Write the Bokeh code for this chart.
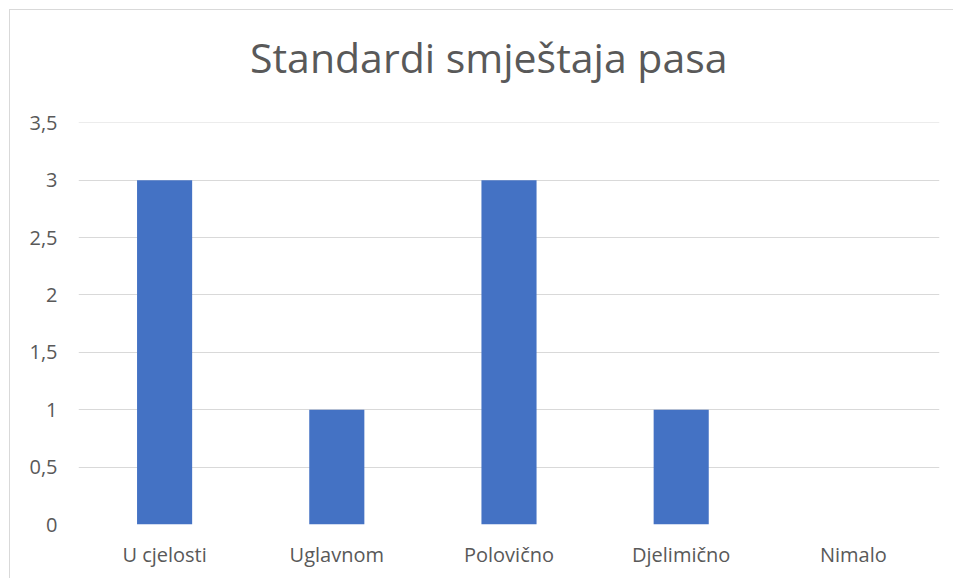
from bokeh.plotting import figure
from bokeh.models import ColumnDataSource, FactorRange, Range1d, FixedTicker, Div
from bokeh.layouts import column
from bokeh.embed import file_html
from bokeh.resources import INLINE

categories = ["U cjelosti", "Uglavnom", "Polovično", "Djelimično", "Nimalo"]
values = [3, 1, 3, 1, 0]
y_ticks = [0, 0.5, 1, 1.5, 2, 2.5, 3, 3.5]
y_tick_labels = ["0", "0,5", "1", "1,5", "2", "2,5", "3", "3,5"]
title_text = "Standardi smještaja pasa"

FONT = "Open Sans"
TXT = "#595959"

src = ColumnDataSource(dict(cat=categories, val=values))

title_div = Div(
    text=('<div style="margin:0; padding:0; padding-top:27px; padding-left:240px; '
          'line-height:1; white-space:nowrap; font-family:\'Open Sans\'; '
          'font-size:41px; color:%s;">%s</div>' % (TXT, title_text)),
    width=943, height=80,
    styles={"margin": "0", "padding": "0", "background-color": "white"},
)

p = figure(
    x_range=FactorRange(*categories, range_padding=0),
    y_range=Range1d(0, 3.503),
    width=943, height=488,
    output_backend="svg", toolbar_location=None,
    min_border_left=68, min_border_right=14,
    min_border_top=32, min_border_bottom=54,
)
p.outline_line_color = None
p.background_fill_color = "white"
p.border_fill_color = "white"

p.vbar(x="cat", top="val", width=0.32, source=src, color="#4472c4", line_color=None)

p.xgrid.grid_line_color = None
p.ygrid.grid_line_color = "#d9d9d9"
p.ygrid.grid_line_width = 1
p.yaxis.ticker = FixedTicker(ticks=y_ticks)
p.yaxis.major_label_overrides = {t: l for t, l in zip(y_ticks, y_tick_labels)}

for ax in (p.xaxis, p.yaxis):
    ax.axis_line_color = None
    ax.major_tick_line_color = None
    ax.minor_tick_line_color = None
    ax.major_label_text_font = FONT
    ax.major_label_text_font_size = "20px"
    ax.major_label_text_color = TXT
p.yaxis.major_label_standoff = 15
p.xaxis.major_label_standoff = 10

layout = column(title_div, p, spacing=0,
                styles={"border-left": "1px solid #d9d9d9",
                        "border-top": "1px solid #d9d9d9",
                        "margin-left": "9px", "margin-top": "9px"})

open("out.html", "w").write(file_html(layout, INLINE))
